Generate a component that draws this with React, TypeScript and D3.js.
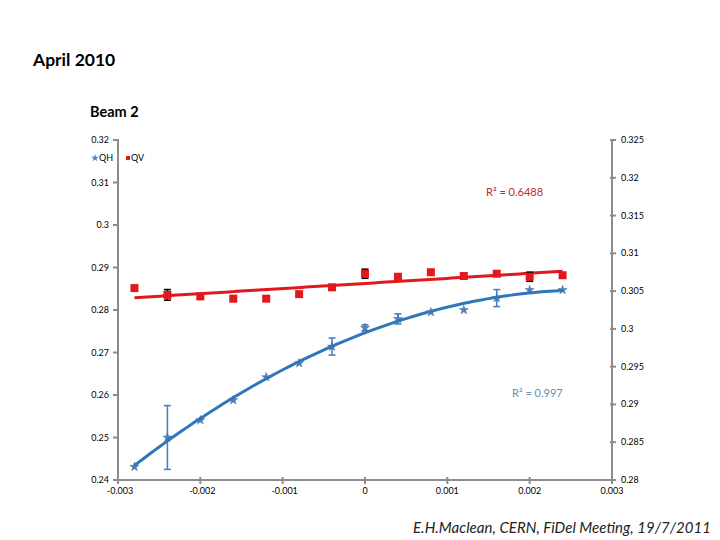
import React from 'react';
import * as d3 from 'd3';

// chromaticity scan, Beam 2
const dpp = [-0.0028, -0.0024, -0.002, -0.0016, -0.0012, -0.0008, -0.0004, 0, 0.0004, 0.0008, 0.0012, 0.0016, 0.002, 0.0024];
const qh = [0.2431, 0.25, 0.2541, 0.2588, 0.2642, 0.2675, 0.2714, 0.2758, 0.2779, 0.2795, 0.28, 0.2828, 0.2847, 0.2847];
const qhErr = [0, 0.0075, 0, 0, 0, 0, 0.002, 0.0007, 0.0012, 0, 0, 0.002, 0, 0];
const qv = [0.3054, 0.3045, 0.3043, 0.304, 0.304, 0.3046, 0.3055, 0.3073, 0.3069, 0.3075, 0.307, 0.3073, 0.3069, 0.3071];
const qvErr = [0, 0.0007, 0, 0, 0, 0, 0, 0.0006, 0, 0, 0, 0, 0.0006, 0];

const xTicks = [-0.003, -0.002, -0.001, 0, 0.001, 0.002, 0.003];
const leftTicks = [0.32, 0.31, 0.3, 0.29, 0.28, 0.27, 0.26, 0.25, 0.24];
const rightTicks = [0.325, 0.32, 0.315, 0.31, 0.305, 0.3, 0.295, 0.29, 0.285, 0.28];

const BLUE = '#2f77b8';
const BLUE_PT = '#4f81bd';
const RED = '#e3181c';
const AXIS = '#8c8c8c';
const FONT = 'Lato, "Open Sans", sans-serif';

const fmt = (v: number) => String(+v.toFixed(4));

// least squares polynomial fit (order 1 or 2)
function polyFit(xs: number[], ys: number[], order: number) {
  const n = order + 1;
  const A: number[][] = Array.from({ length: n }, () => new Array(n + 1).fill(0));
  xs.forEach((x, k) => {
    for (let i = 0; i < n; i++) {
      for (let j = 0; j < n; j++) A[i][j] += Math.pow(x, i + j);
      A[i][n] += ys[k] * Math.pow(x, i);
    }
  });
  for (let i = 0; i < n; i++) {
    let p = i;
    for (let r = i + 1; r < n; r++) if (Math.abs(A[r][i]) > Math.abs(A[p][i])) p = r;
    [A[i], A[p]] = [A[p], A[i]];
    for (let r = 0; r < n; r++) {
      if (r === i) continue;
      const f = A[r][i] / A[i][i];
      for (let c = i; c <= n; c++) A[r][c] -= f * A[i][c];
    }
  }
  const coef = A.map((row, i) => row[n] / row[i]);
  return (x: number) => coef.reduce((s, c, i) => s + c * Math.pow(x, i), 0);
}

export default function App() {
  const x = d3.scaleLinear().domain([-0.003, 0.003]).range([118, 612]);
  const yL = d3.scaleLinear().domain([0.24, 0.32]).range([480, 140]);
  const yR = d3.scaleLinear().domain([0.28, 0.325]).range([480, 140]);

  const fitH = polyFit(dpp, qh, 2);
  const fitV = polyFit(dpp, qv, 1);
  const xs = d3.range(0, 101).map(i => dpp[0] + (i / 100) * (dpp[dpp.length - 1] - dpp[0]));
  const lineH = d3.line<number>().x(d => x(d)).y(d => yL(fitH(d)))(xs);
  const lineV = d3.line<number>().x(d => x(d)).y(d => yR(fitV(d)))(xs);
  const star = d3.symbol().type(d3.symbolStar).size(26)();
  const starSmall = d3.symbol().type(d3.symbolStar).size(18)();

  const errBar = (cx: number, y0: number, y1: number, color: string, key: string) => (
    <g key={key} stroke={color} strokeWidth={1.6}>
      <line x1={cx} x2={cx} y1={y0} y2={y1} />
      <line x1={cx - 3.5} x2={cx + 3.5} y1={y0} y2={y0} />
      <line x1={cx - 3.5} x2={cx + 3.5} y1={y1} y2={y1} />
    </g>
  );

  return (
    <div style={{ position: 'absolute', left: 0, top: 0 }}>
      <svg width={720} height={540} style={{ display: 'block', background: '#fff' }} fontFamily={FONT}>
        <text x={33} y={66} fontSize={17.5} fontWeight="bold" fill="#000">April 2010</text>
        <text x={90} y={117} fontSize={14.5} fontWeight="bold" fill="#000">Beam 2</text>

        {/* axes */}
        <g stroke={AXIS} strokeWidth={2}>
          <line x1={118} x2={118} y1={139} y2={481} />
          <line x1={612} x2={612} y1={139} y2={481} />
          <line x1={117} x2={613} y1={480} y2={480} />
          {leftTicks.map(t => <line key={'l' + t} x1={113} x2={118} y1={yL(t)} y2={yL(t)} />)}
          {rightTicks.map(t => <line key={'r' + t} x1={610} x2={616} y1={yR(t)} y2={yR(t)} />)}
          {xTicks.map(t => <line key={'x' + t} x1={x(t)} x2={x(t)} y1={477} y2={484} />)}
        </g>
        <g fontSize={9} fill="#000">
          {leftTicks.map(t => (
            <text key={'lt' + t} x={109} y={yL(t) + 3} textAnchor="end">{fmt(t)}</text>
          ))}
          {rightTicks.map(t => (
            <text key={'rt' + t} x={621} y={yR(t) + 3}>{fmt(t)}</text>
          ))}
          {xTicks.map(t => (
            <text key={'xt' + t} x={x(t) + (t < 0 ? 2 : 0)} y={494} textAnchor="middle">{fmt(t)}</text>
          ))}
        </g>

        {/* legend */}
        <g fontSize={9} fill="#000">
          <path d={starSmall} transform="translate(95,158)" fill={BLUE_PT} />
          <text x={99} y={161}>QH</text>
          <rect x={126} y={156} width={4} height={4} fill={RED} />
          <text x={131} y={161}>QV</text>
        </g>

        {/* QV series (right axis) */}
        <path d={lineV ?? ''} fill="none" stroke={RED} strokeWidth={3} />
        {dpp.map((d, i) => qvErr[i] > 0 && errBar(x(d), yR(qv[i] - qvErr[i]), yR(qv[i] + qvErr[i]), '#000', 'ev' + i))}
        {dpp.map((d, i) => (
          <rect key={'v' + i} x={x(d) - 4} y={yR(qv[i]) - 4} width={8} height={8} fill={RED} />
        ))}

        {/* QH series (left axis) */}
        {dpp.map((d, i) => qhErr[i] > 0 && errBar(x(d), yL(qh[i] - qhErr[i]), yL(qh[i] + qhErr[i]), BLUE_PT, 'eh' + i))}
        {dpp.map((d, i) => (
          <path key={'h' + i} d={star} transform={`translate(${x(d)},${yL(qh[i])})`} fill={BLUE_PT} stroke="#3a5c8c" strokeWidth={0.4} />
        ))}
        <path d={lineH ?? ''} fill="none" stroke={BLUE} strokeWidth={3} />

        <text x={486} y={196} fontSize={11} fill="#c0282d">R² = 0.6488</text>
        <text x={512} y={397} fontSize={11} fill="#6a8cbc">R² = 0.997</text>

        <text x={413} y={533} fontSize={15} fontStyle="italic" fill="#222" textLength={298}>E.H.Maclean, CERN, FiDel Meeting, 19/7/2011</text>
      </svg>
    </div>
  );
}
